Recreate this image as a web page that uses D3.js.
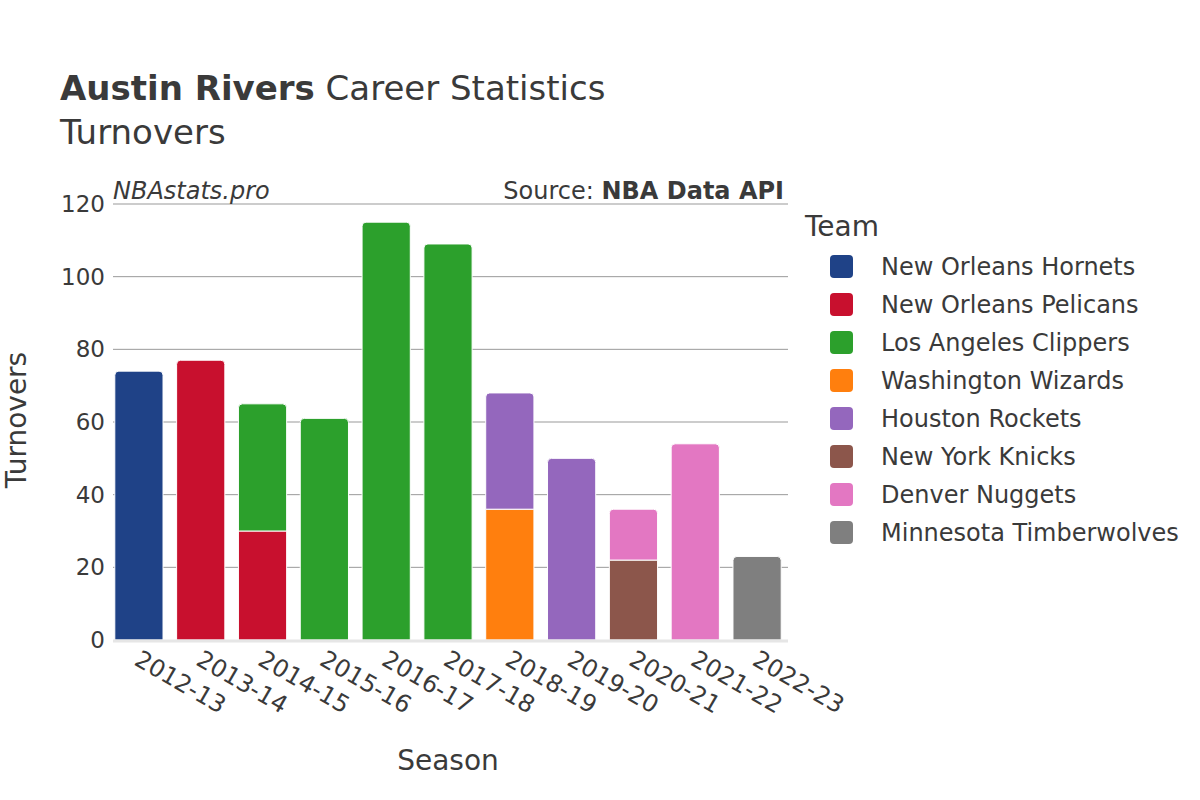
<!DOCTYPE html>
<html><head><meta charset="utf-8">
<script src="https://cdn.jsdelivr.net/npm/d3@7"></script>
<style>body{margin:0;background:#fff}text{font-family:"DejaVu Sans",sans-serif;fill:#3a3a3a}</style>
</head><body><svg id="c" width="1200" height="800"></svg>
<script>
const seasons = ["2012-13","2013-14","2014-15","2015-16","2016-17","2017-18","2018-19","2019-20","2020-21","2021-22","2022-23"];
const teams = ["New Orleans Hornets","New Orleans Pelicans","Los Angeles Clippers","Washington Wizards","Houston Rockets","New York Knicks","Denver Nuggets","Minnesota Timberwolves"];
const colors = ["#1f4287","#c8102e","#2ca02c","#ff7f0e","#9467bd","#8c564b","#e377c2","#7f7f7f"];
// rows: season, team, turnovers (stack order as drawn bottom-up)
const rowSeason = ["2012-13","2013-14","2014-15","2014-15","2015-16","2016-17","2017-18","2018-19","2018-19","2019-20","2020-21","2020-21","2021-22","2022-23"];
const rowTeam = ["New Orleans Hornets","New Orleans Pelicans","New Orleans Pelicans","Los Angeles Clippers","Los Angeles Clippers","Los Angeles Clippers","Los Angeles Clippers","Washington Wizards","Houston Rockets","Houston Rockets","New York Knicks","Denver Nuggets","Denver Nuggets","Minnesota Timberwolves"];
const rowValue = [74,77,30,35,61,115,109,36,32,50,22,14,54,23];
const yTicks = [0,20,40,60,80,100,120];

const svg = d3.select("#c");
const L=113,R=788,T=204,B=640;
const x = d3.scaleBand().domain(seasons).range([108,788]).paddingInner(0.22).paddingOuter(0.11);
const y = d3.scaleLinear().domain([0,120]).range([B,T]);
const col = d3.scaleOrdinal().domain(teams).range(colors);

// gridlines
svg.append("g").selectAll("line").data(yTicks.filter(d=>d>0)).join("line")
  .attr("x1",L).attr("x2",R).attr("y1",d=>y(d)).attr("y2",d=>y(d))
  .attr("stroke","#999").attr("stroke-width",1);

// stacked segments
const base = {};
const segs = rowValue.map((v,i)=>{const s=rowSeason[i];const b=base[s]||0;base[s]=b+v;return {s,t:rowTeam[i],y0:b,y1:b+v};});
const tops = {}; segs.forEach((d,i)=>{tops[d.s]=i;});
const r=4;
function segPath(d,i){
  const x0=x(d.s), w=x.bandwidth(), yt=y(d.y1), yb=y(d.y0);
  if(tops[d.s]===i){
    return `M${x0},${yb}V${yt+r}Q${x0},${yt} ${x0+r},${yt}H${x0+w-r}Q${x0+w},${yt} ${x0+w},${yt+r}V${yb}Z`;
  }
  return `M${x0},${yb}V${yt}H${x0+w}V${yb}Z`;
}
svg.append("g").selectAll("path").data(segs).join("path")
  .attr("d",segPath).attr("fill",d=>col(d.t)).attr("stroke","#fff").attr("stroke-width",1);

// baseline
svg.append("line").attr("x1",L).attr("x2",R).attr("y1",B+1).attr("y2",B+1).attr("stroke","#e6e6e6").attr("stroke-width",3);

// y axis
const ya = svg.append("g").attr("transform",`translate(${L},0)`).call(d3.axisLeft(y).tickValues(yTicks).tickSize(0).tickPadding(8));
ya.select(".domain").remove();
ya.selectAll("text").style("font-size","23px").style("fill","#3a3a3a").style("font-family","DejaVu Sans");

// x axis
const xa = svg.append("g").attr("transform",`translate(0,${B})`).call(d3.axisBottom(x).tickSize(0).tickPadding(0));
xa.select(".domain").remove();
xa.selectAll("text").style("font-size","24px").style("fill","#3a3a3a").style("font-family","DejaVu Sans")
  .attr("text-anchor","start").attr("dy",null).attr("y",0)
  .attr("transform","translate(-6,24) rotate(30)");

// titles
const t = svg.append("text").attr("x",60).attr("y",100).style("font-size","34px");
t.append("tspan").text("Austin Rivers").style("font-weight","bold");
t.append("tspan").text(" Career Statistics");
svg.append("text").attr("x",60).attr("y",144).style("font-size","34px").text("Turnovers");

svg.append("text").attr("x",113).attr("y",199).style("font-size","24px").style("font-style","italic").text("NBAstats.pro");
const src = svg.append("text").attr("x",784).attr("y",199).attr("text-anchor","end").style("font-size","24px");
src.append("tspan").text("Source: ");
src.append("tspan").text("NBA Data API").style("font-weight","bold");

svg.append("text").attr("transform","translate(26,420) rotate(-90)").attr("text-anchor","middle").style("font-size","28px").text("Turnovers");
svg.append("text").attr("x",448).attr("y",770).attr("text-anchor","middle").style("font-size","28px").text("Season");

// legend
const lg = svg.append("g");
lg.append("text").attr("x",805).attr("y",236).style("font-size","28px").text("Team");
const it = lg.selectAll("g.it").data(teams).join("g").attr("class","it")
  .attr("transform",(d,i)=>`translate(0,${266+i*38})`);
it.append("rect").attr("x",830).attr("y",-11).attr("width",23).attr("height",23).attr("rx",4).attr("fill",d=>col(d));
it.append("text").attr("x",881).attr("y",9).style("font-size","24px").text(d=>d);
</script></body></html>
